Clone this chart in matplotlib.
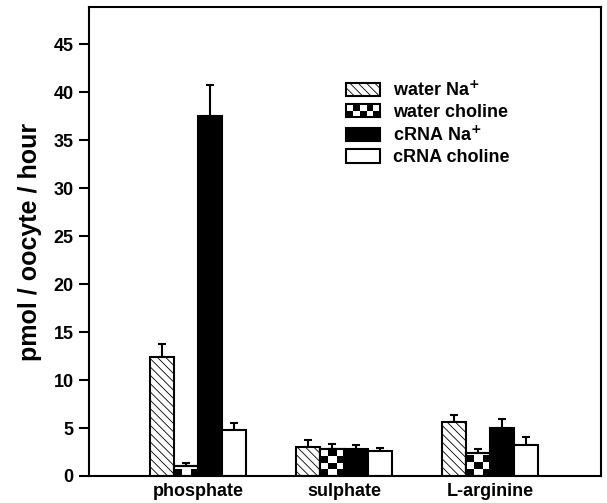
import numpy as np
import matplotlib.pyplot as plt
from matplotlib.patches import Rectangle
from matplotlib.legend_handler import HandlerBase

plt.rcParams['font.family'] = ['Liberation Sans', 'DejaVu Sans']
plt.rcParams['font.weight'] = 'bold'
plt.rcParams['hatch.linewidth'] = 0.6

# ==== Data ====
groups = ["phosphate", "sulphate", "L-arginine"]
series = ["water Na$^{+}$", "water choline", "cRNA Na$^{+}$", "cRNA choline"]
water_na = [12.4, 3.0, 5.6]
water_na_err = [1.35, 0.8, 0.8]
water_cho = [1.0, 2.8, 2.4]
water_cho_err = [0.4, 0.5, 0.45]
crna_na = [37.5, 2.8, 5.0]
crna_na_err = [3.3, 0.45, 0.9]
crna_cho = [4.8, 2.6, 3.2]
crna_cho_err = [0.7, 0.35, 0.9]

values = [water_na, water_cho, crna_na, crna_cho]
errors = [water_na_err, water_cho_err, crna_na_err, crna_cho_err]
faces = ["white", "white", "black", "white"]
hatches = ["\\\\\\\\", None, None, None]

fig = plt.figure(figsize=(6.07, 5.03), dpi=100)
ax = fig.add_axes([0.1466, 0.0537, 0.8434, 0.9323])

x = np.arange(len(groups))
w = 0.165
bars = []
for i, (vals, errs) in enumerate(zip(values, errors)):
    pos = x + (i - 1.5) * w
    b = ax.bar(pos, vals, w, color=faces[i], edgecolor="black", linewidth=1.5,
               hatch=hatches[i], label=series[i], zorder=2)
    bars.append(b)
    ax.errorbar(pos, vals, yerr=[np.zeros(len(errs)), errs], fmt="none",
                ecolor="black", elinewidth=1.5, capsize=3.2, capthick=1.5, zorder=1)

# checkerboard fill for water choline bars
cell = 0.7
for rect in bars[1]:
    h = rect.get_height()
    nrows = max(1, int(round(h / cell)))
    ncols = 3
    pattern = (np.indices((nrows, ncols)).sum(axis=0) % 2).astype(float)
    im = ax.imshow(pattern, cmap="gray", extent=(rect.get_x(), rect.get_x() + rect.get_width(), 0, nrows * cell),
                   origin="lower", interpolation="nearest", aspect="auto", zorder=2.5)
    im.set_clip_path(rect)
    ax.add_patch(Rectangle((rect.get_x(), 0), rect.get_width(), h, fill=False,
                           edgecolor="black", linewidth=1.5, zorder=3))
ax.set_xlim(-0.747, 2.76)
ax.set_ylim(0, 48.9)


class CheckerHandler(HandlerBase):
    def create_artists(self, legend, orig_handle, xdescent, ydescent, width, height, fontsize, trans):
        arts = [Rectangle((-xdescent, -ydescent), width, height, facecolor="white",
                          edgecolor="none", transform=trans)]
        ncol, nrow = 5, 2
        cw, ch = width / ncol, height / nrow
        for i in range(ncol):
            for j in range(nrow):
                if (i + j) % 2 == 0:
                    arts.append(Rectangle((-xdescent + i * cw, -ydescent + j * ch), cw, ch,
                                          facecolor="black", edgecolor="none", transform=trans))
        arts.append(Rectangle((-xdescent, -ydescent), width, height, fill=False,
                              edgecolor="black", linewidth=1.5, transform=trans))
        return arts


handles = [bars[0], bars[1], bars[2], bars[3]]
leg = ax.legend(handles, series, loc="upper left", bbox_to_anchor=(0.502, 0.844), frameon=False,
                borderpad=0, borderaxespad=0,
                fontsize=13, handlelength=1.9, handleheight=0.75, labelspacing=0.25,
                handletextpad=0.7, handler_map={bars[1]: CheckerHandler()})

ax.set_xticks(x)
ax.set_xticklabels(groups, fontsize=13, fontweight="bold")
ax.tick_params(axis="x", length=0, pad=5)
ax.set_yticks(np.arange(0, 50, 5))
ax.tick_params(axis="y", length=7, width=1.5, labelsize=13, pad=4)
for s in ax.spines.values():
    s.set_linewidth(1.5)
ax.set_ylabel("pmol / oocyte / hour", fontsize=18, fontweight="bold", labelpad=8)

fig.savefig("out.png", dpi=100)
